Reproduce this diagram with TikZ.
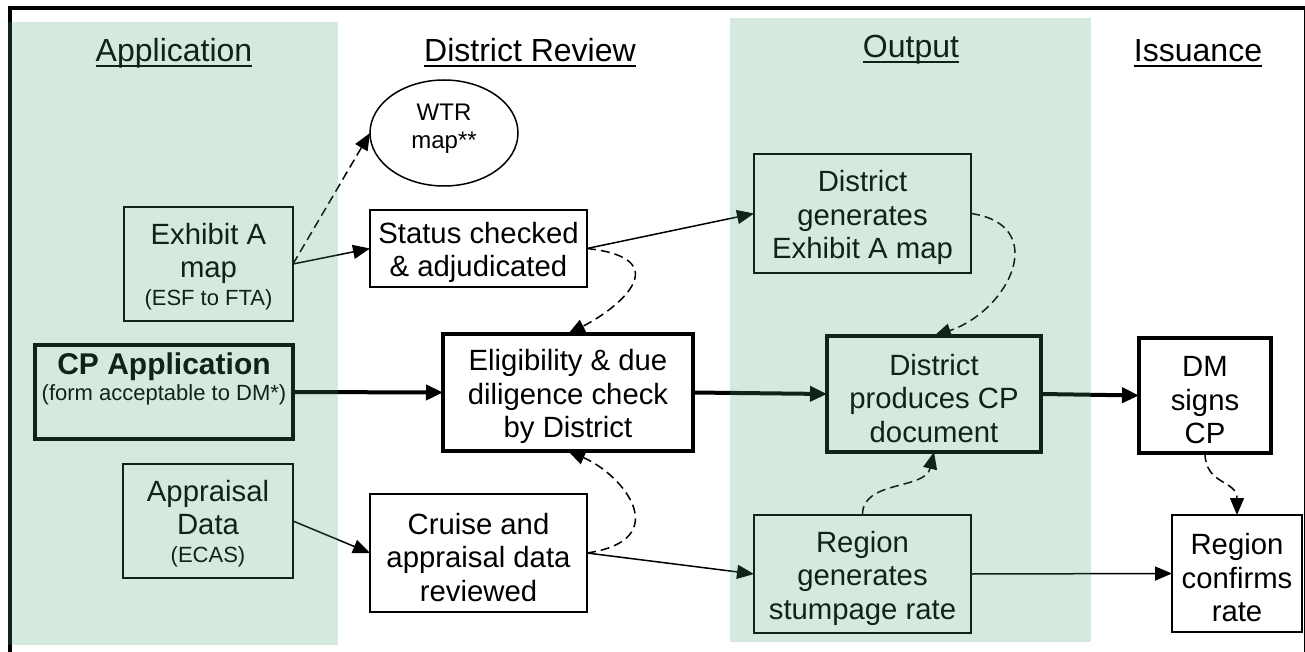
\documentclass[tikz,border=0pt]{standalone}
\usepackage{fontspec}
\setmainfont{Liberation Sans}
\usetikzlibrary{arrows.meta,shapes.geometric}
\definecolor{panelgreen}{rgb}{0.27,0.62,0.44}
% heading text with an underline just below the baseline
\newcommand\HeadUnder[1]{\setbox0\hbox{#1}\rlap{\vrule width\wd0 height -3.5pt depth 5.5pt}\box0}
\newcommand\smalltxt{\fontsize{22}{25}\selectfont}

\begin{document}
\begin{tikzpicture}[x=1pt,y=-1pt,
  every node/.style={inner sep=0pt, outer sep=0pt},
  body/.style={font=\fontsize{29.3}{33.5}\selectfont, align=center},
  lines2/.style={text height=63pt},
  lines3/.style={text height=96.5pt},
  thinbox/.style={draw, line width=1.5pt, rectangle, body},
  thickbox/.style={draw, line width=4pt, rectangle, body},
  head/.style={font=\fontsize{32}{36}\selectfont, anchor=base},
  thinarrow/.style={line width=1.5pt, -{Triangle[length=17pt,width=14pt]}},
  thickarrow/.style={line width=4pt, -{Triangle[length=17pt,width=15pt]}},
  dasharrow/.style={thinarrow, dash pattern=on 9pt off 5pt},
  panel/.style={fill=panelgreen, fill opacity=0.225, draw=none}
]
\useasboundingbox (0,0) rectangle (1305,652);
\fill[white] (0,0) rectangle (1305,652);

% outer frame
\draw[line width=4pt] (10,8) rectangle (1306,700);

% column headings
\node[head] (hApp) at (174,62) {\HeadUnder{Application}};
\node[head] (hRev) at (530,62) {\HeadUnder{District Review}};
\node[head] (hOut) at (911,58) {\HeadUnder{Output}};
\node[head] (hIss) at (1198,62) {\HeadUnder{Issuance}};

% Application column
\node[thinbox, text depth=-1.5pt, minimum width=169, minimum height=114] (exa) at (208.5,264)
  {Exhibit A\\map\\[-6pt]{\smalltxt (ESF to FTA)}};
\node[draw, line width=4pt, rectangle, minimum width=258, minimum height=94] (cpapp) at (164,392) {};
\node[align=center] (cptext) at (164,379)
  {\fontsize{30}{30}\selectfont\bfseries CP Application\\[3pt]{\smalltxt\mdseries (form acceptable to DM*)}};
\node[thinbox, text depth=-1.5pt, minimum width=170, minimum height=114] (appr) at (208,521)
  {Appraisal\\Data\\[-6pt]{\smalltxt (ECAS)}};

% District Review column
\node[draw, ellipse, line width=1.5pt, minimum width=148, minimum height=106,
  align=center, font=\fontsize{24}{28}\selectfont, text depth=14pt] (wtr) at (444,133)
  {WTR\\map**};
\node[thinbox, lines2, minimum width=217, minimum height=77] (status) at (478.5,248.5)
  {Status checked\\\& adjudicated};
\node[thickbox, lines3, minimum width=250, minimum height=117] (elig) at (568,392.5)
  {Eligibility \& due\\diligence check\\by District};
\node[thinbox, lines3, minimum width=217, minimum height=118] (cruise) at (478.5,553)
  {Cruise and\\appraisal data\\reviewed};

% Output column
\node[thinbox, lines3, minimum width=217, minimum height=119] (dgen) at (862.5,213.5)
  {District\\generates\\Exhibit A map};
\node[thickbox, lines3, minimum width=214, minimum height=116] (dprod) at (934,394)
  {District\\produces CP\\document};
\node[thinbox, lines3, minimum width=217, minimum height=118] (rgen) at (862.5,574)
  {Region\\generates\\stumpage rate};

% Issuance column
\node[thickbox, lines3, minimum width=132, minimum height=115] (dm) at (1205,395.5)
  {DM\\signs\\CP};
\node[thinbox, lines3, minimum width=130, minimum height=117] (rconf) at (1237,573.5)
  {Region\\confirms\\rate};

% connectors
\draw[thinarrow] (exa.east) -- (status.west);
\draw[dasharrow] (exa.east) -- (wtr.west);
\draw[thinarrow] (status.east) -- (dgen.west);
\draw[dasharrow] (status.east) .. controls (675,258) and (624,305) .. (elig.north);
\draw[thickarrow] (cpapp.east) -- (elig.west);
\draw[thickarrow] (elig.east) -- (dprod.west);
\draw[thickarrow] (dprod.east) -- (dm.west);
\draw[thinarrow] (appr.east) -- (cruise.west);
\draw[thinarrow] (cruise.east) -- (rgen.west);
\draw[dasharrow] (cruise.east) .. controls (675,540) and (624,475) .. (elig.south);
\draw[dasharrow] (dgen.east) .. controls (1050,225) and (1010,310) .. (dprod.north);
\draw[dasharrow] (rgen.north) .. controls (862,480) and (925,490) .. (dprod.south);
\draw[dasharrow] (dm.south) .. controls (1205,485) and (1237,480) .. (rconf.north);
\draw[thinarrow] (rgen.east) -- (rconf.west);

% translucent green column panels laid over everything
\fill[panel] (8,22) rectangle (338,645);
\fill[panel] (730,18) rectangle (1091,642);
\end{tikzpicture}
\end{document}
